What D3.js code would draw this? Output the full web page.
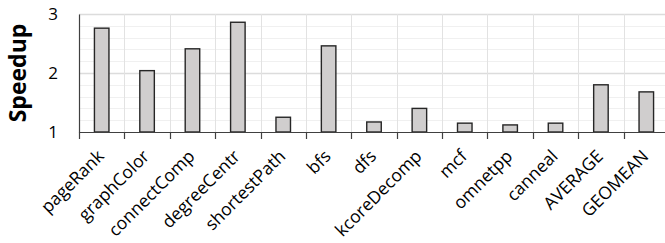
<!DOCTYPE html>
<html>
<head>
<meta charset="utf-8">
<script src="https://cdn.jsdelivr.net/npm/d3@7"></script>
<style>
  body { margin: 0; background: #fff; }
  svg { display: block; }
</style>
</head>
<body>
<div id="chart"></div>
<script>
// benchmarks and their speedups
const categories = ["pageRank", "graphColor", "connectComp", "degreeCentr", "shortestPath", "bfs", "dfs",
  "kcoreDecomp", "mcf", "omnetpp", "canneal", "AVERAGE", "GEOMEAN"];
const speedup = [2.76, 2.04, 2.41, 2.86, 1.25, 2.46, 1.17, 1.40, 1.15, 1.12, 1.15, 1.80, 1.68];
const yTicks = [1, 2, 3];

const width = 665, height = 243;
const margin = { top: 14, right: -4, bottom: 111, left: 79 };

const svg = d3.select("#chart").append("svg")
  .attr("width", width)
  .attr("height", height);

const x = d3.scaleBand()
  .domain(categories)
  .range([margin.left, width - margin.right])
  .paddingInner(0).paddingOuter(0);

const y = d3.scaleLinear()
  .domain([1, 3])
  .range([height - margin.bottom, margin.top]);

const font = "Open Sans, sans-serif";

// minor horizontal grid (every 0.2)
const minor = d3.range(1.2, 3, 0.2).filter(v => Math.abs(v - 2) > 0.01);
svg.append("g").selectAll("line").data(minor).enter().append("line")
  .attr("x1", margin.left).attr("x2", width)
  .attr("y1", d => Math.round(y(d)) + 0.5).attr("y2", d => Math.round(y(d)) + 0.5)
  .style("stroke", "#f0f0f0").style("stroke-width", 1);

// major horizontal grid
svg.append("g").selectAll("line").data([2, 3]).enter().append("line")
  .attr("x1", margin.left).attr("x2", width)
  .attr("y1", d => Math.round(y(d)) + 0.5).attr("y2", d => Math.round(y(d)) + 0.5)
  .style("stroke", "#dcdcdc").style("stroke-width", 1.3);

// vertical grid at band edges
svg.append("g").selectAll("line").data(categories.slice(1)).enter().append("line")
  .attr("x1", d => Math.round(x(d)) + 0.5).attr("x2", d => Math.round(x(d)) + 0.5)
  .attr("y1", y(3)).attr("y2", y(1))
  .style("stroke", "#e2e2e2").style("stroke-width", 1);

// bars
const bw = x.bandwidth() * 0.32;
svg.append("g").selectAll("rect").data(speedup).enter().append("rect")
  .attr("x", (d, i) => x(categories[i]) + x.bandwidth() / 2 - bw / 2)
  .attr("y", d => y(d))
  .attr("width", bw)
  .attr("height", d => y(1) - y(d))
  .style("fill", "#d0cece")
  .style("stroke", "#262626")
  .style("stroke-width", 1.4);

// x axis
const xAxis = svg.append("g")
  .attr("transform", "translate(0," + y(1) + ")")
  .call(d3.axisBottom(x).tickSize(0).tickFormat(""));
xAxis.select(".domain").attr("d", "M" + margin.left + ",0.5H" + width).style("stroke", "#404040").style("stroke-width", 1.2);

// x ticks at band edges
svg.append("g").selectAll("line").data(categories).enter().append("line")
  .attr("x1", d => Math.round(x(d)) + 0.5).attr("x2", d => Math.round(x(d)) + 0.5)
  .attr("y1", y(1)).attr("y2", y(1) + 7)
  .style("stroke", "#404040").style("stroke-width", 1.2);

// x labels, rotated
svg.append("g").selectAll("text").data(categories).enter().append("text")
  .attr("transform", d => "translate(" + (x(d) + x.bandwidth() / 2 - 1) + "," + (y(1) + 21) + ") rotate(-45)")
  .attr("text-anchor", "end")
  .attr("dy", "0.35em")
  .style("font-family", font)
  .style("font-size", "17.5px")
  .style("fill", "#000")
  .text(d => d);

// y axis
const yAxis = svg.append("g")
  .attr("transform", "translate(" + margin.left + ",0)")
  .call(d3.axisLeft(y).tickValues(yTicks).tickSize(0).tickPadding(21).tickFormat(d3.format("d")));
yAxis.select(".domain").style("stroke", "#404040").style("stroke-width", 1.2);
yAxis.selectAll("text")
  .style("font-family", font)
  .style("font-size", "17px")
  .style("fill", "#000");

// y title
svg.append("text")
  .attr("transform", "translate(18," + ((y(1) + y(3)) / 2) + ") rotate(-90)")
  .attr("text-anchor", "middle")
  .attr("dy", "0.35em")
  .style("font-family", font)
  .style("font-size", "23px")
  .style("font-weight", "bold")
  .text("Speedup");
</script>
</body>
</html>
